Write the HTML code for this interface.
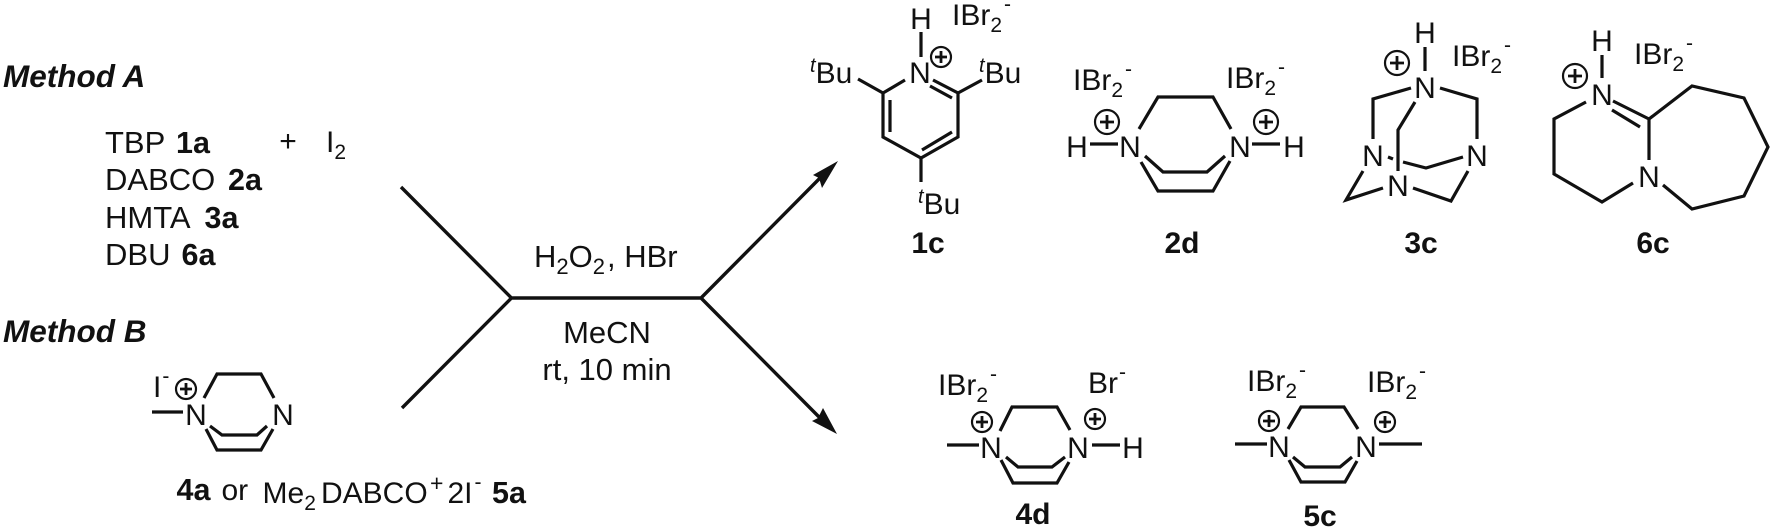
<!DOCTYPE html>
<html>
<head>
<meta charset="utf-8">
<style>
html,body{margin:0;padding:0;background:#fff;width:1772px;height:530px;overflow:hidden}
svg{display:block}
text{font-family:"Liberation Sans",Arial,sans-serif;font-size:30px;fill:#111}
.r{font-size:31px}
.r.b{font-size:30.5px}
.d{font-size:30px}
.b{font-weight:bold}
.bi{font-weight:bold;font-style:italic;font-size:31.5px}
.m{text-anchor:middle}
.s{font-size:21px}
.i{font-style:italic;font-size:20px}
.l{fill:none;stroke:#111;stroke-width:3.2;stroke-linejoin:miter;stroke-linecap:butt}
.p{fill:#fff;stroke:#111;stroke-width:2.2}
.pl{stroke:#111;stroke-width:2.8}
</style>
</head>
<body>
<svg width="1772" height="530" viewBox="0 0 1772 530" xmlns="http://www.w3.org/2000/svg">
<defs>
<g id="plus"><circle class="p" r="10"/><path class="pl" d="M-6 0H6M0 -6V6"/></g>
<g id="plusL"><circle class="p" r="12"/><path class="pl" d="M-7 0H7M0 -7V7"/></g>
</defs>

<!-- left text -->
<text class="bi" x="3" y="87">Method A</text>
<text class="r" x="105" y="153">TBP</text><text class="r b" x="176" y="153">1a</text>
<text class="r" x="105" y="190">DABCO</text><text class="r b" x="228" y="190">2a</text>
<text class="r" x="105" y="228">HMTA</text><text class="r b" x="204.5" y="228">3a</text>
<text class="r" x="105" y="265">DBU</text><text class="r b" x="181.5" y="265">6a</text>
<text class="m" x="288" y="151">+</text>
<text class="d" x="326" y="152">I<tspan class="s" dy="7">2</tspan></text>
<text class="bi" x="3" y="342">Method B</text>

<!-- 4a -->
<text class="d" x="153" y="397">I<tspan class="s" dy="-14" dx="1">-</tspan></text>
<use href="#plus" x="186" y="389"/>
<text class="m" x="196" y="425">N</text>
<text class="m" x="283" y="425">N</text>
<path class="l" d="M152 412H183M204 398L217 374H261L274 398M206 429L217 450H261L273 429M210 426L222 435H257L267 426"/>
<text class="r b" x="176.5" y="500">4a</text>
<text class="d" x="221.5" y="500">or</text>
<text class="d" x="262.5" y="503">Me<tspan class="s" dy="7">2</tspan></text>
<text class="d" x="321" y="503">DABCO</text>
<text class="s" x="430" y="491" style="font-size:23px">+</text>
<text class="d" x="447.5" y="503">2I<tspan class="s" dy="-14" dx="2">-</tspan></text>
<text class="r b" x="492" y="503">5a</text>

<!-- reaction lines -->
<path class="l" d="M401 187L511.500 298L402 408M511.500 298H701L824 174M701 298L823 421" style="stroke-width:3.4"/>
<path d="M838 161L813 175L819 178L822 188Z" fill="#111"/>
<path d="M837 434L812 421L818 418L823 408Z" fill="#111"/>
<text class="r" x="534" y="267">H<tspan style="font-size:22px" dy="7">2</tspan><tspan dy="-7">O</tspan><tspan style="font-size:22px" dy="7">2</tspan><tspan dy="-7" dx="2">, HBr</tspan></text>
<text class="r m" x="607" y="343">MeCN</text>
<text class="r m" x="607" y="380">rt, 10 min</text>

<!-- 1c -->
<text class="m" x="921" y="29">H</text>
<text x="952" y="25">IBr<tspan class="s" dy="7">2</tspan><tspan class="s" dy="-21" dx="2">-</tspan></text>
<path class="l" d="M921 32V57"/>
<use href="#plus" x="941" y="57"/>
<text class="m" x="920" y="83">N</text>
<text x="810" y="83"><tspan class="i" dy="-11">t</tspan><tspan dy="11">Bu</tspan></text>
<text x="979" y="83"><tspan class="i" dy="-11">t</tspan><tspan dy="11">Bu</tspan></text>
<text x="918" y="214"><tspan class="i" dy="-11">t</tspan><tspan dy="11">Bu</tspan></text>
<path class="l" d="M905 80L883 93V137L921 158L958 137V93L933 80M890 100V132M952 132L922 150M930 86L952 98M858 79L883 93M958 93L982 80M921 158V182"/>
<text class="b m" x="928" y="253">1c</text>

<!-- 2d -->
<text x="1073" y="90">IBr<tspan class="s" dy="7">2</tspan><tspan class="s" dy="-21" dx="2">-</tspan></text>
<text x="1226" y="88">IBr<tspan class="s" dy="7">2</tspan><tspan class="s" dy="-21" dx="2">-</tspan></text>
<use href="#plusL" x="1107" y="122"/>
<use href="#plusL" x="1266" y="122"/>
<text class="m" x="1077" y="157">H</text>
<text class="m" x="1130" y="157">N</text>
<text class="m" x="1240" y="157">N</text>
<text class="m" x="1294" y="157">H</text>
<path class="l" d="M1090 144H1118M1252 144H1280M1139 129L1158 97H1213L1231 129M1141 162L1158 191H1213L1230 161M1145 156L1163 172H1207L1225 156"/>
<text class="b m" x="1182" y="253">2d</text>

<!-- 3c -->
<text class="m" x="1425" y="43">H</text>
<path class="l" d="M1425 47V71"/>
<use href="#plusL" x="1397" y="63"/>
<text x="1452" y="66">IBr<tspan class="s" dy="7">2</tspan><tspan class="s" dy="-21" dx="2">-</tspan></text>
<text class="m" x="1425" y="98">N</text>
<text class="m" x="1373" y="166">N</text>
<text class="m" x="1477" y="166">N</text>
<text class="m" x="1398" y="196">N</text>
<path class="l" d="M1411 88L1373 99V139M1440 88L1477 99V139M1415 102L1398 130V171M1403 162L1426 168L1463 157M1388 157L1393 159M1363 171L1346 200L1383 188M1468 171L1451 201L1413 188"/>
<text class="b m" x="1421" y="253">3c</text>

<!-- 6c -->
<text class="m" x="1602" y="51">H</text>
<path class="l" d="M1602 55V78"/>
<use href="#plusL" x="1575" y="76"/>
<text x="1634" y="64">IBr<tspan class="s" dy="7">2</tspan><tspan class="s" dy="-21" dx="2">-</tspan></text>
<text class="m" x="1602" y="105">N</text>
<text class="m" x="1649" y="187">N</text>
<path class="l" d="M1613 101L1649 119M1612 110L1640 127M1586 102L1554 119V174L1602 202L1633 183M1649 119V160M1649 119L1692 86L1744 98L1768 147L1744 196L1692 209L1663 185"/>
<text class="b m" x="1653" y="253">6c</text>

<!-- 4d -->
<text x="938" y="395">IBr<tspan class="s" dy="7">2</tspan><tspan class="s" dy="-21" dx="2">-</tspan></text>
<text x="1088" y="393">Br<tspan class="s" dy="-14" dx="1">-</tspan></text>
<use href="#plus" x="982" y="422"/>
<use href="#plus" x="1095" y="419"/>
<text class="m" x="991" y="458">N</text>
<text class="m" x="1078" y="458">N</text>
<text class="m" x="1133" y="458">H</text>
<path class="l" d="M947 445H979M1092 445H1120M1000 431L1012 407H1057L1070 430M1001 460L1013 483H1057L1069 462M1006 457L1018 467H1052L1065 457"/>
<text class="b m" x="1033" y="524">4d</text>

<!-- 5c -->
<text x="1247" y="391">IBr<tspan class="s" dy="7">2</tspan><tspan class="s" dy="-21" dx="2">-</tspan></text>
<text x="1367" y="392">IBr<tspan class="s" dy="7">2</tspan><tspan class="s" dy="-21" dx="2">-</tspan></text>
<use href="#plus" x="1269" y="421"/>
<use href="#plus" x="1385" y="422"/>
<text class="m" x="1279" y="457">N</text>
<text class="m" x="1366" y="457">N</text>
<path class="l" d="M1235 444H1267M1379 444H1422M1288 429L1301 407H1344L1358 429M1289 460L1301 482H1345L1357 461M1293 457L1305 467H1340L1352 457"/>
<text class="b m" x="1320" y="526">5c</text>
</svg>
</body>
</html>
